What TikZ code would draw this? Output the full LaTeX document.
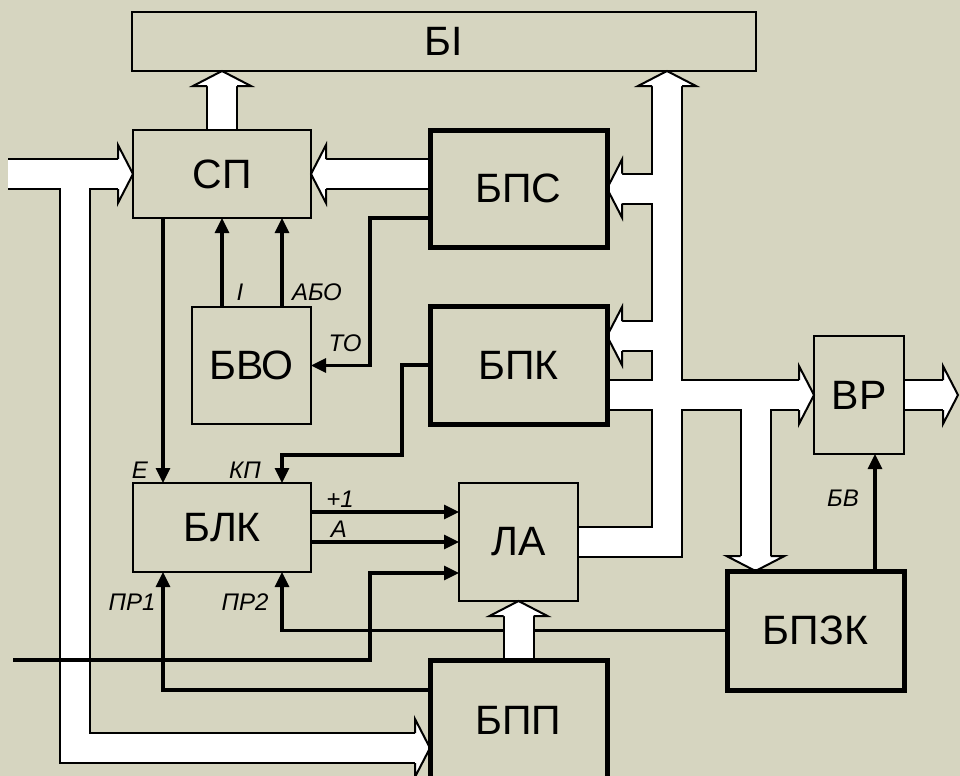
\documentclass[tikz,border=0pt]{standalone}
\usepackage{fontspec}
\setmainfont{Liberation Sans}
\usetikzlibrary{arrows.meta,backgrounds}
\definecolor{bgc}{RGB}{214,213,192}

% wide white arrow head, tip at #1, pointing to angle #2
\newcommand\widehead[2]{\filldraw[headst, shift={(#1)}, rotate=#2] (-15,-15) -- (-15,-29) -- (0,0) -- (-15,29) -- (-15,15);}
% wide buses, drawn twice (outline, then white)
\newcommand\buses[1]{%
  \draw[#1] (cW) -- (sp.west);
  \draw[#1] (cW -| cBr) -- (cBr) -- (bpp.west |- cBr);
  \draw[#1] (sp.north) -- (bi.south -| sp.north);
  \draw[#1] (bps.west |- sp.east) -- (sp.east);
  \draw[#1] (la.east) -| (bi.south -| cBus);
  \draw[#1] (cBus |- bps.east) -- (bps.east);
  \draw[#1] (cBus |- cF) -- (bpk.east |- cF);
  \draw[#1] (bpk.east |- vr.west) -- (vr.west);
  \draw[#1] (cBr2) -- (bpzk.north -| cBr2);
  \draw[#1] (vr.east) -- (cOut);
  \draw[#1] (bpp.north -| la.south) -- (la.south);
}

\begin{document}
\begin{tikzpicture}[x=0.5pt, y=-0.5pt, >={Triangle[length=7.5pt,width=7pt]},
  every node/.style={font=\fontsize{20.5}{24}\selectfont},
  box/.style={draw, line width=1pt, inner sep=0pt, outer sep=0pt},
  bbox/.style={box, line width=2.5pt},
  lbl/.style={font=\itshape\fontsize{12}{14}\selectfont, inner sep=0pt},
  arr/.style={->, line width=1.6pt},
  wideout/.style={line width=16pt, shorten >=7.5pt, line join=miter},
  widein/.style={wideout, line width=14pt, white},
  headst/.style={fill=white, draw=black, line width=1pt, line join=miter}]
\useasboundingbox (0,0) rectangle (960,776);
\clip (0,0) rectangle (960,776);

\node[box, minimum width=312pt, minimum height=29.5pt] (bi) at (444,41.5) {БІ};
\node[box, minimum width=89pt, minimum height=44pt] (sp) at (222,174) {СП};
\node[bbox, minimum width=88.5pt, minimum height=58.5pt] (bps) at (518.5,188.5) {БПС};
\node[box, minimum width=59.5pt, minimum height=58.5pt] (bvo) at (251.5,365.5) {БВО};
\node[bbox, minimum width=88.5pt, minimum height=59pt] (bpk) at (518.5,365) {БПК};
\node[box, minimum width=45pt, minimum height=59pt] (vr) at (859,395) {ВР};
\node[box, minimum width=89pt, minimum height=44.5pt] (blk) at (222,527.5) {БЛК};
\node[box, minimum width=59.5pt, minimum height=59pt] (la) at (518.5,542) {ЛА};
\node[bbox, minimum width=88.5pt, minimum height=59.5pt] (bpzk) at (815.5,630.5) {БПЗК};
\node[bbox, minimum width=88.5pt, minimum height=60pt] (bpp) at (518.5,720) {БПП};

\coordinate (cW) at (8,174);
\coordinate (cBr) at (75,748);
\coordinate (cBus) at (667,0);
\coordinate (cF) at (0,336);
\coordinate (cBr2) at (755.5,395);
\coordinate (cOut) at (958,395);
\coordinate (cE) at (163,0);
\coordinate (cI) at (222,0);
\coordinate (cA) at (282,0);
\coordinate (cTO) at (370,218);
\coordinate (cKP) at (402,455);
\coordinate (c1) at (0,512);
\coordinate (cIn) at (13,660);
\coordinate (cLA) at (370,573);
\coordinate (cP1) at (0,690);
\coordinate (cBV) at (875,0);

\begin{pgfonlayer}{background}
\fill[bgc] (0,0) rectangle (960,776);
\draw[arr] (bpzk.west) -| (blk.south -| cA);
\buses{wideout}
\buses{widein}
\widehead{sp.west}{0}
\widehead{bpp.west |- cBr}{0}
\widehead{bi.south -| sp.north}{90}
\widehead{sp.east}{180}
\widehead{bi.south -| cBus}{90}
\widehead{bps.east}{180}
\widehead{bpk.east |- cF}{180}
\widehead{vr.west}{0}
\widehead{bpzk.north -| cBr2}{-90}
\widehead{cOut}{0}
\widehead{la.south}{90}
\end{pgfonlayer}

\draw[arr] (sp.south -| cE) -- (blk.north -| cE);
\draw[arr] (bvo.north -| cI) -- (sp.south -| cI);
\draw[arr] (bvo.north -| cA) -- (sp.south -| cA);
\draw[arr] (bps.west |- cTO) -- (cTO) |- (bvo.east);
\draw[arr] (bpk.west) -| (cKP) -| (blk.north -| cA);
\draw[arr] (blk.east |- c1) -- (la.west |- c1);
\draw[arr] (blk.east |- la.west) -- (la.west);
\draw[arr] (cIn) -| (cLA) -- (la.west |- cLA);
\draw[arr] (bpp.west |- cP1) -| (blk.south -| cE);
\draw[arr] (bpzk.north -| cBV) -- (vr.south -| cBV);

\node[lbl] (lE) at (140,470) {Е};
\node[lbl] (lI) at (240,292) {І};
\node[lbl] (lABO) at (317,292) {АБО};
\node[lbl] (lTO) at (345,343) {ТО};
\node[lbl] (lKP) at (245,470) {КП};
\node[lbl] (lP1) at (340,499) {+1};
\node[lbl] (lA) at (339,529) {А};
\node[lbl] (lPR1) at (132,602) {ПР1};
\node[lbl] (lPR2) at (245,602) {ПР2};
\node[lbl] (lBV) at (843,498) {БВ};
\end{tikzpicture}
\end{document}
